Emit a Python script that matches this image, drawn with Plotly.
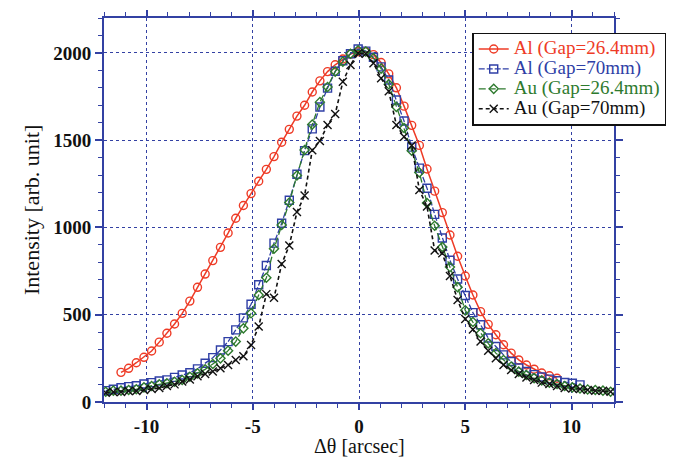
import plotly.graph_objects as go

# common angle grid (arcsec)
theta = [-11.92, -11.56, -11.20, -10.84, -10.48, -10.12, -9.76, -9.40, -9.04, -8.68,
         -8.32, -7.96, -7.60, -7.24, -6.88, -6.52, -6.16, -5.80, -5.44, -5.08,
         -4.72, -4.36, -4.00, -3.64, -3.28, -2.92, -2.56, -2.20, -1.84, -1.48,
         -1.12, -0.76, -0.40, -0.04, 0.32, 0.68, 1.04, 1.40, 1.76, 2.12,
         2.48, 2.84, 3.20, 3.56, 3.92, 4.28, 4.64, 5.00, 5.36, 5.72,
         6.08, 6.44, 6.80, 7.16, 7.52, 7.88, 8.24, 8.60, 8.96, 9.32,
         9.68, 10.04, 10.40, 10.76, 11.12, 11.48, 11.84]

# Al (Gap=26.4mm): theta[2] .. theta[59]
al_264_x = theta[2:60]
al_264_y = [170, 193, 225, 256, 292, 343, 394, 447, 508, 578,
            657, 733, 810, 886, 968, 1053, 1126, 1194, 1265, 1333,
            1406, 1488, 1562, 1638, 1700, 1776, 1840, 1893, 1932, 1965,
            1993, 2007, 2008, 1990, 1945, 1880, 1800, 1695, 1585, 1470,
            1335, 1208, 1085, 957, 835, 722, 613, 518, 445, 385,
            328, 280, 241, 212, 188, 166, 150, 136]

# Al (Gap=70mm): theta[0] .. theta[62]
al_70_x = theta[0:63]
al_70_y = [65, 73, 82, 88, 93, 103, 111, 120, 127, 141,
           155, 168, 190, 222, 254, 298, 346, 413, 482, 560,
           672, 782, 910, 1024, 1156, 1305, 1440, 1565, 1690, 1798,
           1895, 1955, 1995, 2022, 2010, 1975, 1920, 1845, 1730, 1610,
           1460, 1340, 1225, 1075, 940, 812, 705, 610, 512, 443,
           367, 318, 270, 232, 195, 175, 157, 143, 131, 122,
           112, 107, 98]

# Au (Gap=26.4mm)
au_264_x = theta
au_264_y = [59, 65, 65, 69, 73, 84, 92, 101, 107, 116,
            126, 145, 164, 187, 218, 250, 294, 346, 422, 508,
            613, 712, 878, 1014, 1143, 1298, 1444, 1590, 1718, 1805,
            1893, 1950, 1995, 2015, 2008, 1970, 1910, 1820, 1690, 1570,
            1440, 1315, 1140, 1010, 888, 773, 658, 525, 458, 394,
            336, 280, 241, 203, 174, 155, 137, 124, 111, 103,
            92, 84, 77, 72, 69, 65, 59]

# Au (Gap=70mm)
au_70_x = theta
au_70_y = [53, 57, 57, 63, 63, 69, 75, 80, 92, 101,
           118, 129, 147, 160, 175, 193, 212, 240, 262, 327,
           432, 618, 597, 790, 897, 1088, 1183, 1442, 1495, 1587,
           1650, 1835, 1931, 1998, 1995, 1941, 1855, 1780, 1587, 1520,
           1470, 1215, 1120, 868, 852, 722, 585, 475, 415, 346,
           294, 250, 212, 183, 160, 141, 126, 111, 103, 92,
           80, 78, 75, 69, 65, 65, 59]

names = ["Al (Gap=26.4mm)", "Al (Gap=70mm)", "Au (Gap=26.4mm)", "Au (Gap=70mm)"]
colors = ["#ee3b26", "#2f3fa6", "#2e7a2e", "#111111"]

x_tickvals = [-10, -5, 0, 5, 10]
x_ticktext = ["-10", "-5", "0", "5", "10"]
y_tickvals = [0, 500, 1000, 1500, 2000]
y_ticktext = ["0", "500", "1000", "1500", "2000"]

x_title = "Δθ [arcsec]"
y_title = "Intensity [arb. unit]"

FONT = "Liberation Serif, Times New Roman, serif"
AX = "#3341a3"

fig = go.Figure()
specs = [
    (al_264_x, al_264_y, "circle-open", 8, "solid", 1.5),
    (al_70_x, al_70_y, "square-open", 8, "6px,2px", 1.3),
    (au_264_x, au_264_y, "diamond-open", 7, "7px,3px", 1.3),
    (au_70_x, au_70_y, "x-thin-open", 8, "4px,3px", 1.6),
]
for (x, y, sym, size, dash, lw), name, col in zip(specs, names, colors):
    fig.add_trace(go.Scatter(
        x=x, y=y, mode="lines+markers",
        name=f"<span style='color:{col};font-size:19px'>{name}</span>",
        line=dict(color=col, width=lw, dash=dash),
        marker=dict(symbol=sym, size=size, color=col,
                    line=dict(color=col, width=1.4)),
    ))

fig.update_layout(
    width=678, height=457,
    margin=dict(l=104, r=62, t=18, b=55),
    paper_bgcolor="white", plot_bgcolor="white",
    font=dict(family=FONT, size=17, color="#111"),
    showlegend=True,
    legend=dict(
        x=0.722, y=0.962, xanchor="left", yanchor="top",
        bgcolor="white", bordercolor="#111", borderwidth=1.5,
        font=dict(family=FONT, size=13),
        tracegroupgap=0, itemwidth=30,
    ),
    xaxis=dict(
        range=[-12, 12], tickvals=x_tickvals, ticktext=x_ticktext,
        automargin=False,
        showline=True, linecolor=AX, linewidth=2, mirror="allticks",
        ticks="outside", ticklen=6, tickwidth=1.5, tickcolor=AX,
        showgrid=True, gridcolor=AX, griddash="dot", gridwidth=1,
        zeroline=False,
        minor=dict(dtick=1, tick0=0, ticks="outside", ticklen=4, tickcolor=AX, tickwidth=1.2, showgrid=False),
        tickfont=dict(family=FONT, size=19, color="#111", weight="bold"),
    ),
    yaxis=dict(
        range=[0, 2200], tickvals=y_tickvals, ticktext=y_ticktext,
        automargin=False,
        showline=True, linecolor=AX, linewidth=2, mirror="allticks",
        ticks="outside", ticklen=7, tickwidth=1.5, tickcolor=AX,
        showgrid=True, gridcolor=AX, griddash="dot", gridwidth=1,
        zeroline=False,
        minor=dict(dtick=100, tick0=0, ticks="outside", ticklen=4, tickcolor=AX, tickwidth=1.2, showgrid=False),
        tickfont=dict(family=FONT, size=19, color="#111", weight="bold"),
    ),
    annotations=[
        dict(text=x_title, xref="paper", yref="paper", x=0.5, y=-0.114,
             xanchor="center", yanchor="middle", showarrow=False,
             font=dict(family=FONT, size=20, color="#111")),
        dict(text=y_title, xref="paper", yref="paper", x=-0.143, y=0.5,
             xanchor="center", yanchor="middle", textangle=-90, showarrow=False,
             font=dict(family=FONT, size=22, color="#111")),
    ],
)

fig.write_html("out.html", config={"displayModeBar": False},
               post_script="document.body.style.margin='0';")
